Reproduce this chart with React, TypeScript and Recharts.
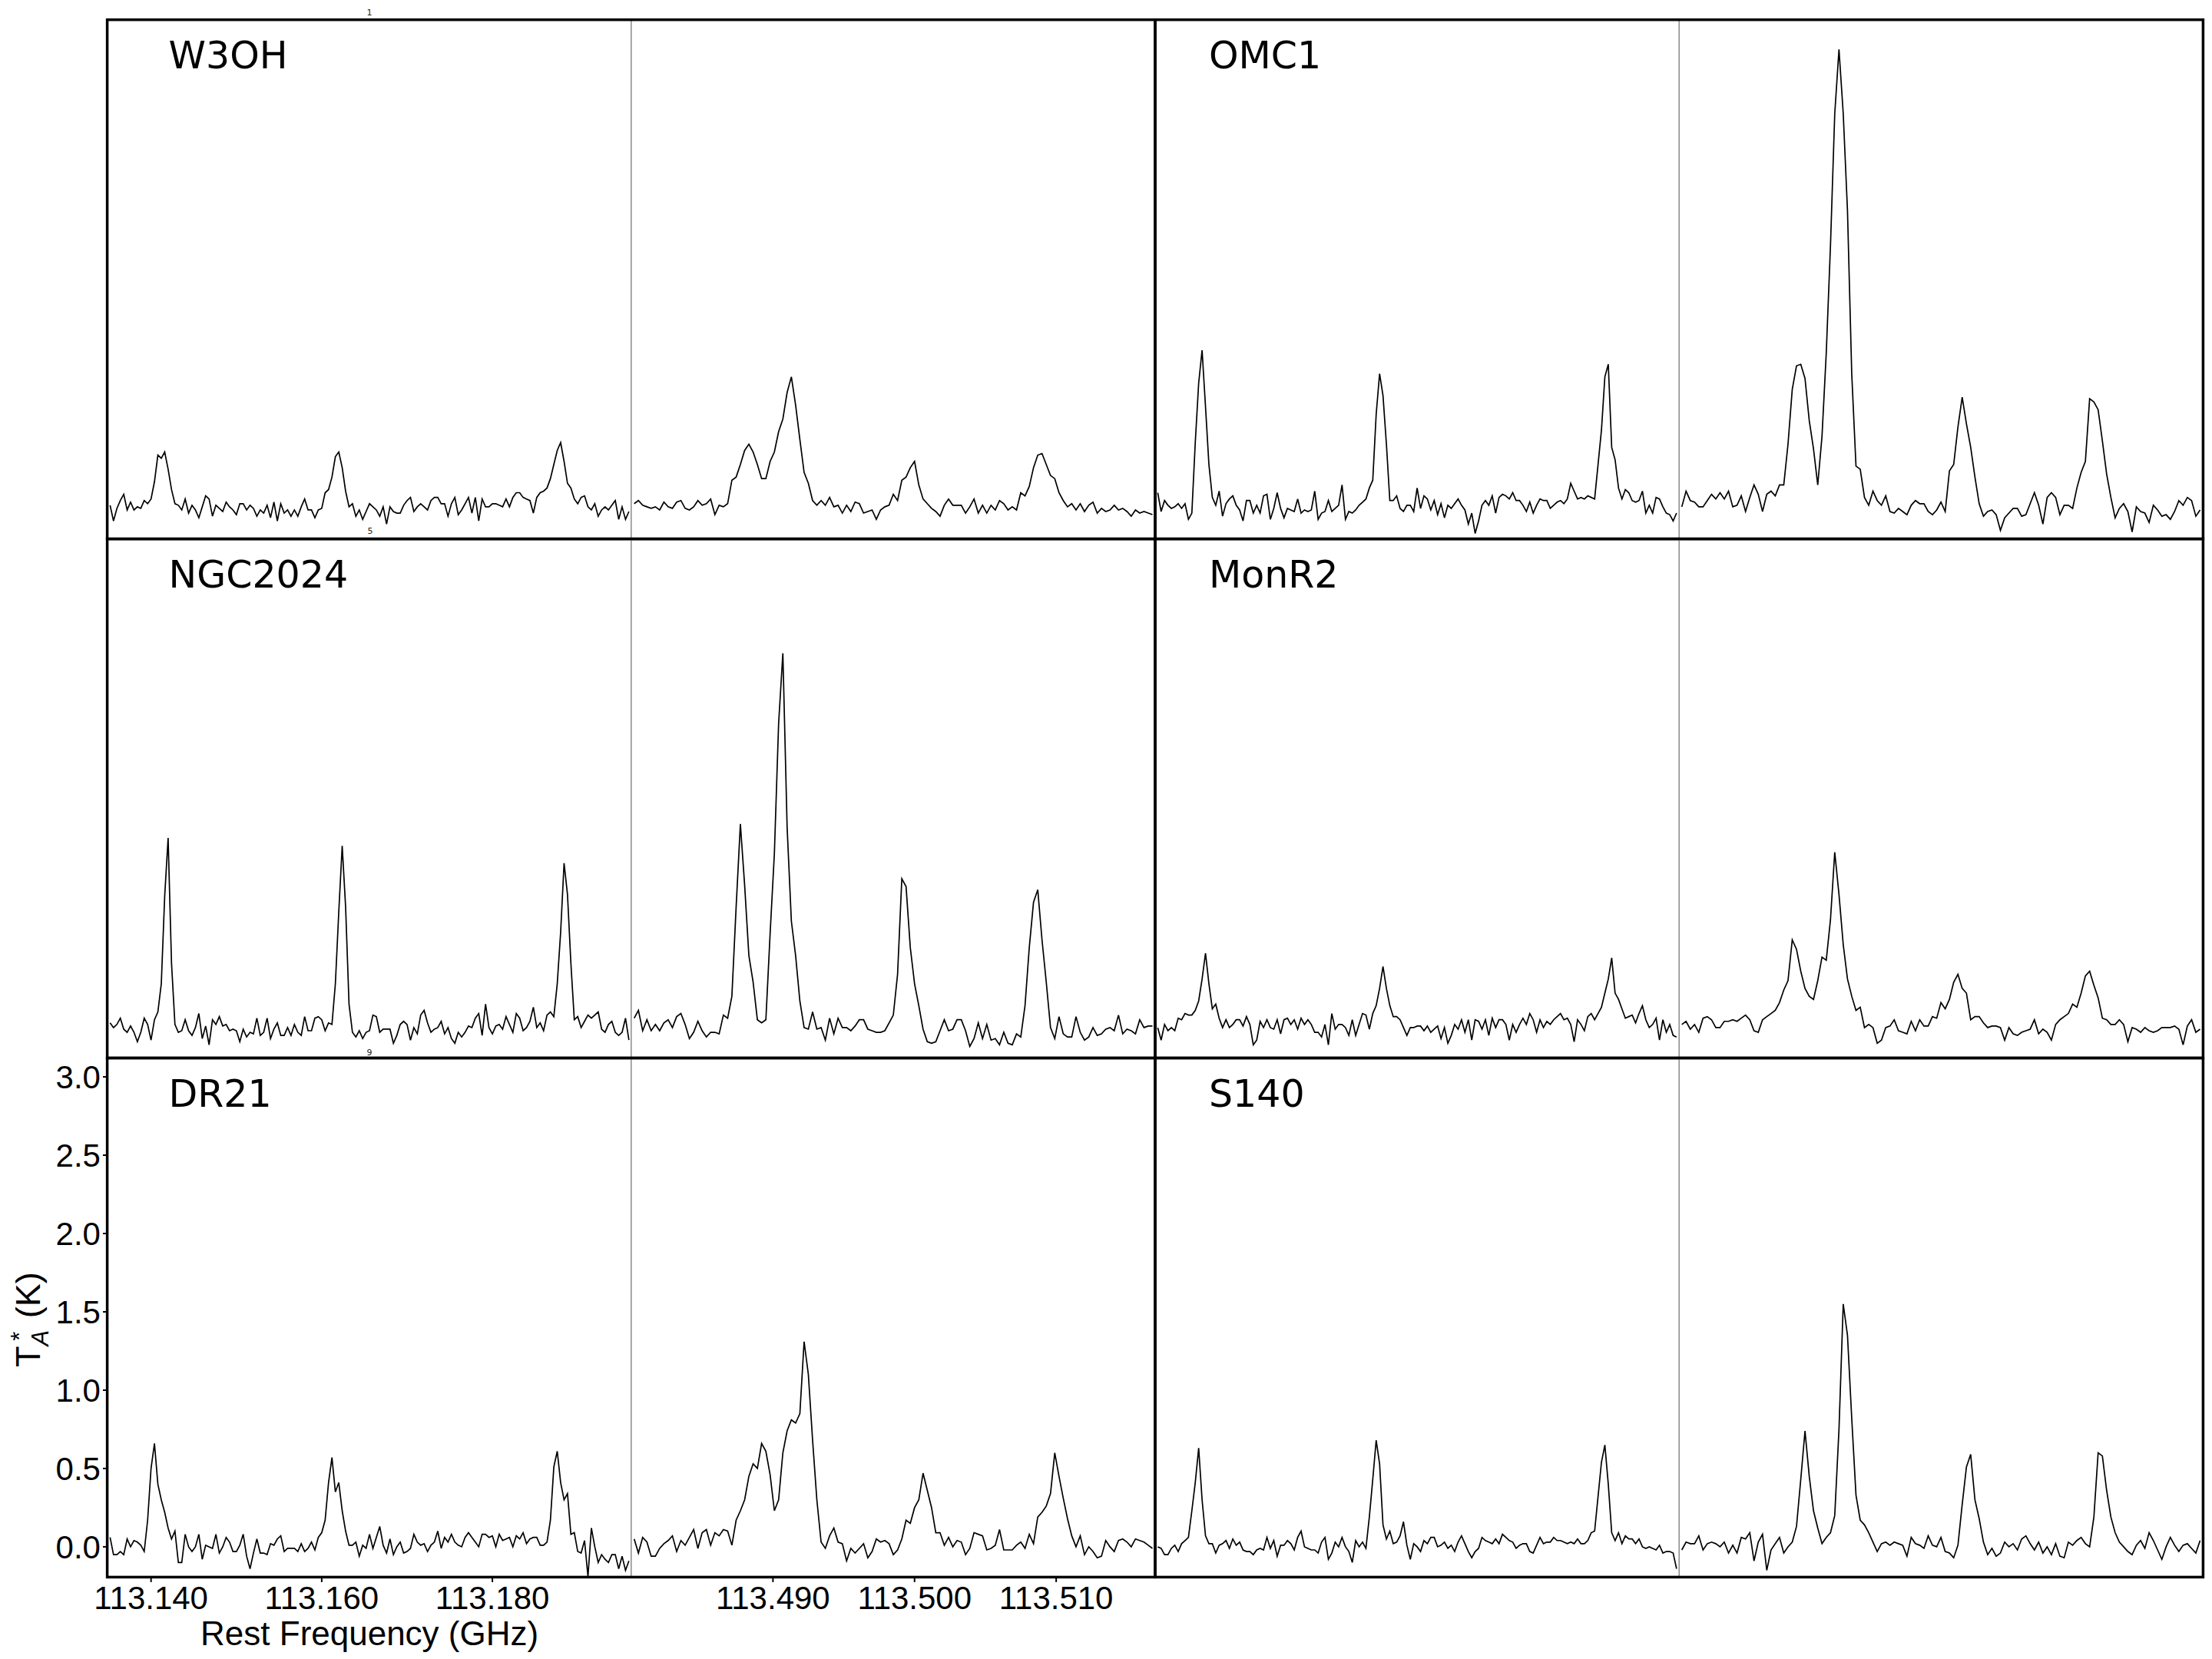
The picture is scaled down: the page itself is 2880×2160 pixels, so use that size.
import React from 'react';
import { LineChart, Line, XAxis, YAxis, Label } from 'recharts';

// frequency grid of each spectral window (GHz)
const LOW_START = 113.1352;
const LOW_STEP = 0.0004;
const HIGH_START = 113.4802;
const HIGH_STEP = 0.0003;
const LOW_DOMAIN: [number, number] = [113.1349, 113.1963];
const HIGH_DOMAIN: [number, number] = [113.48, 113.517];
const LOW_TICKS = [113.14, 113.16, 113.18];
const HIGH_TICKS = [113.49, 113.5, 113.51];
const Y_DOMAIN: [number, number] = [-0.196, 3.118];
const Y_TICKS = [0, 0.5, 1, 1.5, 2, 2.5, 3];

const sourceNames = ['W3OH', 'OMC1', 'NGC2024', 'MonR2', 'DR21', 'S140'];

// antenna temperature T*A (K), one value per channel
const w3ohLow = [
  0.02, -0.08, 0.0, 0.05, 0.09, -0.01, 0.04, -0.01, 0.01, 0.0,
  0.05, 0.03, 0.06, 0.17, 0.34, 0.32, 0.36, 0.25, 0.12, 0.03,
  0.02, -0.01, 0.06, -0.03, 0.02, -0.01, -0.06, 0.01, 0.08, 0.06,
  -0.05, 0.02, 0.0, -0.02, 0.04, 0.01, -0.01, -0.04, 0.03, 0.03,
  -0.01, 0.02, 0.0, -0.05, -0.01, -0.03, 0.02, -0.06, 0.04, -0.08,
  0.03, -0.03, -0.01, -0.05, -0.01, -0.05, 0.01, 0.06, -0.01, -0.01,
  -0.06, -0.01, 0.0, 0.1, 0.12, 0.2, 0.33, 0.36, 0.26, 0.11,
  0.01, 0.03, -0.05, -0.01, -0.07, -0.02, 0.03, 0.01, -0.01, -0.05,
  0.01, -0.1, 0.01, -0.02, -0.03, -0.03, 0.02, 0.05, 0.07, -0.02,
  0.01, 0.03, 0.01, -0.01, 0.05, 0.07, 0.07, 0.03, 0.03, -0.05,
  0.03, 0.07, -0.04, -0.01, 0.03, 0.07, -0.03, 0.07, -0.08, 0.06,
  0.01, 0.01, 0.03, 0.03, 0.02, 0.01, 0.06, 0.01, 0.07, 0.1,
  0.1, 0.07, 0.06, 0.05, -0.03, 0.07, 0.1, 0.11, 0.13, 0.19,
  0.28, 0.37, 0.42, 0.3, 0.16, 0.13, 0.06, 0.03, 0.07, 0.08,
  0.01, -0.01, 0.03, -0.05, -0.01, 0.01, -0.01, 0.02, 0.05, -0.07,
  0.01, -0.07, -0.02,
];
const w3ohHigh = [
  0.03, 0.05, 0.02, 0.01, 0.0, 0.01, -0.01, 0.04, 0.01, 0.0,
  0.04, 0.05, 0.0, -0.01, 0.01, 0.05, 0.02, 0.03, 0.06, -0.04,
  0.02, 0.01, 0.03, 0.18, 0.2, 0.28, 0.37, 0.41, 0.36, 0.28,
  0.19, 0.19, 0.3, 0.36, 0.49, 0.57, 0.74, 0.84, 0.66, 0.44,
  0.23, 0.16, 0.05, 0.02, 0.05, 0.02, 0.07, 0.01, 0.02, -0.03,
  0.02, -0.02, 0.04, 0.03, -0.03, -0.02, -0.01, -0.07, -0.01, 0.01,
  0.02, 0.09, 0.05, 0.18, 0.2, 0.26, 0.3, 0.15, 0.06, 0.03,
  0.0, -0.02, -0.05, 0.02, 0.06, 0.02, 0.02, 0.02, -0.03, 0.01,
  0.06, -0.03, 0.02, -0.03, 0.02, -0.01, 0.05, 0.03, -0.01, 0.01,
  -0.01, 0.1, 0.08, 0.14, 0.26, 0.34, 0.35, 0.28, 0.21, 0.19,
  0.1, 0.05, 0.01, 0.03, -0.01, 0.03, -0.02, 0.02, 0.04, -0.03,
  0.0, -0.02, -0.01, 0.02, -0.01, 0.0, -0.02, -0.05, -0.01, -0.03,
  -0.02, -0.03, -0.04,
];
const omc1Low = [
  0.1, -0.02, 0.05, 0.02, 0.0, 0.01, 0.03, 0.0, 0.03, -0.07,
  -0.03, 0.42, 0.8, 1.01, 0.65, 0.28, 0.07, 0.02, 0.11, -0.05,
  0.03, 0.06, 0.08, 0.02, -0.01, -0.08, 0.05, 0.05, -0.03, 0.02,
  -0.03, 0.08, 0.09, -0.07, 0.0, 0.1, 0.0, -0.06, 0.0, -0.01,
  -0.02, 0.06, -0.03, -0.01, -0.02, -0.01, 0.11, -0.07, -0.03, -0.02,
  0.05, -0.02, 0.0, 0.02, 0.15, -0.07, -0.02, -0.03, -0.01, 0.02,
  0.04, 0.06, 0.13, 0.18, 0.6, 0.86, 0.72, 0.41, 0.05, 0.05,
  0.08, 0.0, -0.02, 0.02, 0.02, -0.02, 0.13, 0.0, 0.08, 0.06,
  -0.01, 0.05, -0.04, 0.03, -0.06, 0.02, 0.0, 0.03, 0.06, 0.02,
  -0.01, -0.1, -0.03, -0.16, -0.08, 0.02, 0.05, 0.02, 0.08, -0.03,
  0.07, 0.09, 0.08, 0.06, 0.1, 0.05, 0.05, 0.02, -0.02, 0.04,
  -0.03, 0.02, 0.06, 0.05, 0.05, 0.0, 0.02, 0.04, 0.05, 0.03,
  0.06, 0.16, 0.11, 0.06, 0.07, 0.06, 0.08, 0.07, 0.06, 0.28,
  0.5, 0.84, 0.92, 0.39, 0.31, 0.13, 0.06, 0.12, 0.1, 0.05,
  0.04, 0.05, 0.11, -0.03, 0.02, -0.03, 0.07, 0.06, 0.01, -0.03,
  -0.04, -0.08, -0.03,
];
const omc1High = [
  0.01, 0.11, 0.05, 0.04, 0.01, 0.01, 0.05, 0.09, 0.06, 0.1,
  0.06, 0.11, 0.01, 0.02, 0.08, -0.02, 0.07, 0.15, 0.09, -0.02,
  0.09, 0.11, 0.08, 0.15, 0.15, 0.41, 0.76, 0.91, 0.92, 0.83,
  0.56, 0.38, 0.15, 0.46, 0.99, 1.68, 2.52, 2.93, 2.52, 1.9,
  0.86, 0.27, 0.25, 0.07, 0.02, 0.11, 0.05, 0.02, 0.08, -0.02,
  -0.03, 0.0, -0.02, -0.04, 0.02, 0.05, 0.03, 0.03, -0.02, -0.04,
  -0.01, 0.04, -0.02, 0.24, 0.28, 0.52, 0.71, 0.54, 0.39, 0.2,
  0.03, -0.05, -0.02, -0.01, -0.04, -0.14, -0.06, -0.03, 0.0, 0.0,
  -0.05, -0.04, 0.03, 0.1, 0.02, -0.1, 0.07, 0.1, 0.07, -0.04,
  0.02, 0.02, 0.0, 0.13, 0.23, 0.3, 0.7, 0.68, 0.63, 0.43,
  0.22, 0.07, -0.06, 0.0, 0.03, -0.02, -0.15, 0.01, -0.02, -0.03,
  -0.09, 0.02, -0.01, -0.05, -0.04, -0.07, -0.02, 0.05, 0.02, 0.07,
  0.05, -0.05, -0.01,
];
const ngc2024Low = [
  0.03, 0.0, 0.02, 0.06, -0.01, -0.03, 0.01, -0.03, -0.09, -0.03,
  0.06, 0.02, -0.08, 0.05, 0.1, 0.28, 0.84, 1.21, 0.41, 0.02,
  -0.03, -0.02, 0.05, -0.02, -0.05, 0.0, 0.09, -0.07, 0.01, -0.11,
  0.05, 0.02, 0.07, 0.01, 0.02, -0.02, -0.01, -0.02, -0.09, -0.01,
  -0.06, -0.03, -0.04, 0.06, -0.05, -0.03, 0.06, -0.07, -0.01, 0.03,
  -0.05, -0.05, 0.0, -0.05, 0.02, -0.03, -0.05, 0.07, -0.02, -0.02,
  0.06, 0.07, 0.05, -0.02, 0.03, 0.02, 0.28, 0.74, 1.16, 0.77,
  0.15, -0.03, -0.06, -0.02, -0.07, -0.03, -0.02, 0.08, 0.07, -0.03,
  -0.01, -0.01, -0.01, -0.1, -0.05, 0.02, 0.04, 0.02, -0.08, 0.0,
  -0.04, 0.08, 0.11, 0.03, -0.03, -0.01, 0.0, 0.04, -0.04, 0.0,
  -0.07, -0.1, -0.03, -0.06, -0.03, 0.01, 0.0, 0.06, 0.09, -0.05,
  0.15, 0.0, -0.04, 0.01, 0.02, -0.01, 0.07, 0.02, -0.03, 0.09,
  0.06, -0.02, 0.0, 0.04, 0.13, 0.0, 0.03, -0.02, 0.08, 0.1,
  0.07, 0.28, 0.61, 1.05, 0.85, 0.41, 0.05, 0.07, 0.0, 0.04,
  0.08, 0.06, 0.08, 0.1, -0.01, -0.03, 0.02, 0.04, -0.03, -0.05,
  -0.03, 0.06, -0.08,
];
const ngc2024High = [
  0.06, 0.11, -0.02, 0.05, -0.02, 0.02, -0.02, 0.03, 0.05, 0.0,
  0.07, 0.09, 0.02, -0.07, -0.03, 0.04, -0.02, -0.06, -0.03, -0.03,
  -0.04, 0.08, 0.06, 0.2, 0.77, 1.3, 0.91, 0.46, 0.29, 0.05,
  0.03, 0.05, 0.6, 1.11, 1.94, 2.39, 1.28, 0.68, 0.46, 0.17,
  0.0, -0.01, 0.1, -0.01, 0.0, -0.08, 0.06, -0.04, 0.06, 0.0,
  0.0, -0.02, 0.01, 0.05, 0.05, -0.01, -0.02, -0.03, -0.03, -0.02,
  0.03, 0.08, 0.34, 0.95, 0.9, 0.51, 0.28, 0.14, -0.01, -0.09,
  -0.1, -0.09, -0.02, 0.05, -0.02, -0.01, 0.05, 0.05, -0.02, -0.12,
  -0.07, 0.03, -0.07, 0.02, -0.08, -0.07, -0.11, -0.03, -0.1, -0.11,
  -0.04, -0.06, 0.14, 0.51, 0.8, 0.88, 0.56, 0.29, 0.0, -0.07,
  0.07, -0.04, -0.06, -0.06, 0.07, -0.03, -0.08, -0.06, 0.0, -0.05,
  -0.04, -0.01, 0.0, -0.02, 0.08, -0.04, -0.01, -0.02, -0.04, 0.05,
  0.0, 0.01, 0.01,
];
const monr2Low = [
  0.0, -0.08, 0.02, -0.02, 0.0, -0.02, 0.06, 0.05, 0.09, 0.08,
  0.08, 0.11, 0.17, 0.31, 0.475, 0.28, 0.12, 0.15, 0.06, 0.0,
  0.05, 0.0, 0.02, 0.05, 0.05, 0.01, 0.07, 0.02, -0.11, -0.08,
  0.04, 0.0, 0.05, 0.0, -0.01, 0.05, -0.04, 0.05, 0.06, 0.02,
  0.05, -0.01, 0.06, 0.02, 0.05, 0.02, -0.03, -0.03, -0.06, 0.02,
  -0.11, 0.09, -0.01, 0.02, 0.02, 0.0, -0.05, 0.05, -0.05, 0.02,
  0.09, 0.08, -0.01, 0.09, 0.14, 0.25, 0.39, 0.25, 0.14, 0.07,
  0.07, 0.05, 0.0, -0.05, 0.0, 0.0, 0.01, 0.01, -0.02, 0.01,
  -0.03, -0.01, 0.01, -0.07, 0.0, -0.1, -0.05, 0.02, -0.01, 0.05,
  -0.03, 0.05, -0.08, 0.05, 0.04, -0.01, 0.05, -0.05, 0.06, 0.0,
  0.05, 0.05, 0.02, -0.08, 0.02, -0.03, 0.02, 0.06, 0.02, 0.09,
  0.05, -0.03, 0.05, 0.0, 0.04, 0.02, 0.05, 0.07, 0.09, 0.05,
  0.06, 0.02, -0.09, 0.05, 0.02, -0.02, 0.07, 0.09, 0.05, 0.09,
  0.13, 0.22, 0.31, 0.445, 0.22, 0.18, 0.12, 0.06, 0.07, 0.08,
  0.03, 0.09, 0.14, 0.05, 0.0, 0.02, 0.06, -0.08, 0.05, -0.03,
  0.02, -0.05, -0.06,
];
const monr2High = [
  0.02, 0.04, -0.01, 0.02, -0.03, 0.06, 0.07, 0.05, 0.0, 0.0,
  0.04, 0.04, 0.05, 0.04, 0.06, 0.08, 0.05, -0.02, -0.03, 0.05,
  0.07, 0.09, 0.11, 0.16, 0.24, 0.3, 0.56, 0.5, 0.36, 0.25,
  0.2, 0.18, 0.3, 0.45, 0.43, 0.69, 1.12, 0.85, 0.53, 0.31,
  0.2, 0.11, 0.13, 0.0, 0.02, 0.0, -0.1, -0.08, 0.0, 0.01,
  0.05, -0.02, -0.03, -0.04, 0.04, -0.02, 0.05, 0.01, 0.01, 0.07,
  0.06, 0.16, 0.12, 0.18, 0.29, 0.34, 0.25, 0.22, 0.05, 0.07,
  0.07, 0.03, 0.0, 0.01, 0.01, 0.0, -0.08, 0.0, -0.04, -0.05,
  -0.03, -0.02, -0.01, 0.05, -0.04, -0.01, -0.03, -0.08, 0.02, 0.05,
  0.07, 0.09, 0.15, 0.13, 0.22, 0.33, 0.36, 0.27, 0.19, 0.06,
  0.05, 0.02, 0.02, 0.05, 0.02, -0.09, 0.0, -0.01, -0.03, 0.0,
  -0.02, -0.03, -0.02, 0.0, 0.0, 0.0, 0.01, -0.01, -0.11, 0.01,
  0.05, -0.03, -0.01,
];
const dr21Low = [
  0.06, -0.05, -0.05, -0.03, -0.05, 0.05, 0.0, 0.04, 0.03, 0.01,
  -0.03, 0.17, 0.5, 0.66, 0.4, 0.3, 0.22, 0.12, 0.05, 0.1,
  -0.1, -0.1, 0.08, 0.0, -0.03, 0.0, 0.08, -0.08, 0.01, 0.0,
  -0.01, 0.08, -0.04, 0.0, 0.06, 0.03, -0.03, -0.03, 0.01, 0.08,
  -0.06, -0.14, -0.04, 0.05, -0.04, -0.04, -0.05, 0.02, 0.01, 0.05,
  0.07, -0.03, -0.01, -0.01, -0.01, -0.03, 0.02, -0.03, -0.01, 0.03,
  -0.02, 0.06, 0.09, 0.17, 0.41, 0.57, 0.35, 0.41, 0.23, 0.1,
  0.01, 0.01, 0.03, -0.06, 0.01, -0.01, 0.08, -0.01, 0.06, 0.13,
  0.01, -0.04, 0.05, -0.05, 0.0, 0.03, -0.04, -0.03, -0.01, 0.08,
  0.03, 0.01, 0.02, -0.03, 0.01, 0.03, 0.1, -0.01, 0.06, 0.03,
  0.08, 0.03, 0.01, 0.0, 0.06, 0.09, 0.06, 0.03, 0.0, 0.08,
  0.08, 0.06, 0.07, 0.0, 0.08, 0.04, 0.05, 0.06, 0.0, 0.07,
  0.05, 0.09, 0.02, 0.05, 0.06, 0.06, 0.01, 0.01, 0.03, 0.17,
  0.51, 0.61, 0.41, 0.3, 0.34, 0.08, 0.09, -0.03, -0.04, 0.04,
  -0.19, 0.12, 0.0, -0.1, -0.05, -0.08, -0.1, -0.05, -0.05, -0.14,
  -0.06, -0.15, -0.09,
];
const dr21High = [
  0.05, -0.04, 0.06, 0.03, -0.06, -0.06, -0.01, 0.02, 0.04, 0.07,
  -0.03, 0.04, 0.01, 0.06, 0.11, -0.01, 0.09, 0.11, 0.01, 0.09,
  0.07, 0.11, 0.1, 0.01, 0.17, 0.23, 0.3, 0.45, 0.53, 0.5,
  0.66, 0.61, 0.46, 0.23, 0.3, 0.6, 0.74, 0.81, 0.79, 0.85,
  1.31, 1.1, 0.68, 0.3, 0.03, -0.01, 0.07, 0.12, 0.03, 0.02,
  -0.09, -0.01, -0.04, -0.01, 0.02, -0.07, -0.03, 0.05, 0.03, 0.04,
  0.02, -0.05, -0.02, 0.05, 0.17, 0.15, 0.25, 0.3, 0.47, 0.36,
  0.25, 0.09, 0.09, 0.01, 0.06, 0.0, 0.04, 0.03, -0.05, -0.01,
  0.09, 0.08, 0.07, -0.02, -0.01, 0.01, 0.11, -0.02, -0.02, -0.02,
  0.01, 0.03, -0.01, 0.08, 0.02, 0.19, 0.22, 0.26, 0.34, 0.6,
  0.45, 0.31, 0.18, 0.07, 0.0, 0.07, -0.05, 0.0, -0.03, -0.07,
  -0.06, 0.04, 0.0, -0.03, 0.04, 0.05, 0.03, 0.0, 0.05, 0.04,
  0.03, 0.01, -0.01,
];
const s140Low = [
  0.0, -0.01, -0.05, -0.05, -0.01, 0.01, -0.03, 0.02, 0.04, 0.06,
  0.23, 0.41, 0.63, 0.3, 0.07, 0.02, 0.02, -0.04, 0.01, 0.02,
  0.04, -0.01, 0.05, 0.01, 0.03, -0.02, -0.03, -0.03, -0.05, -0.02,
  -0.01, -0.02, 0.06, -0.01, 0.04, -0.06, 0.01, 0.01, 0.04, 0.02,
  -0.02, 0.06, 0.1, 0.0, -0.01, -0.02, -0.02, -0.04, 0.03, 0.06,
  -0.08, -0.04, 0.03, 0.0, 0.06, 0.0, -0.03, -0.1, 0.04, 0.0,
  0.03, -0.01, 0.19, 0.43, 0.68, 0.53, 0.14, 0.05, 0.1, 0.02,
  0.03, 0.07, 0.16, 0.01, -0.08, 0.02, 0.0, -0.03, 0.04, 0.02,
  0.06, 0.06, 0.0, 0.01, 0.03, -0.01, 0.01, -0.03, 0.03, 0.07,
  0.02, -0.03, -0.07, -0.03, -0.01, 0.06, 0.04, 0.03, 0.02, 0.05,
  0.02, 0.08, 0.06, 0.04, 0.03, -0.01, 0.01, 0.02, 0.02, -0.03,
  -0.04, 0.01, 0.06, 0.02, 0.03, 0.03, 0.06, 0.04, 0.04, 0.03,
  0.02, 0.03, 0.02, 0.05, 0.02, 0.02, 0.04, 0.09, 0.1, 0.32,
  0.54, 0.65, 0.4, 0.09, 0.04, 0.09, 0.02, 0.07, 0.05, 0.05,
  0.02, 0.05, 0.0, -0.01, 0.0, -0.01, -0.02, 0.01, -0.04, -0.03,
  -0.03, -0.04, -0.14,
];
const s140High = [
  -0.02, 0.03, 0.02, 0.02, 0.07, -0.02, 0.02, 0.03, 0.02, 0.0,
  0.03, -0.04, 0.01, -0.04, 0.06, 0.05, 0.09, -0.09, 0.03, 0.08,
  -0.15, -0.02, 0.02, 0.06, -0.04, 0.0, 0.03, 0.13, 0.43, 0.74,
  0.45, 0.23, 0.12, 0.02, 0.06, 0.09, 0.2, 0.75, 1.55, 1.35,
  0.82, 0.33, 0.17, 0.14, 0.09, 0.03, -0.03, 0.02, 0.03, 0.01,
  0.03, 0.02, 0.01, -0.06, 0.06, 0.02, 0.01, -0.01, 0.07, 0.01,
  0.0, 0.06, -0.03, -0.04, -0.07, 0.01, 0.27, 0.51, 0.59, 0.3,
  0.18, 0.03, -0.05, -0.01, -0.06, -0.04, 0.03, 0.0, 0.02, -0.02,
  0.05, 0.07, 0.02, -0.02, 0.03, -0.04, 0.0, -0.05, 0.02, -0.06,
  -0.07, 0.03, 0.01, 0.04, 0.06, 0.02, 0.0, 0.19, 0.6, 0.58,
  0.36, 0.19, 0.09, 0.03, 0.0, -0.03, -0.05, 0.01, 0.04, -0.01,
  0.09, 0.04, -0.02, -0.08, 0.0, 0.06, 0.01, -0.03, 0.01, 0.02,
  -0.01, -0.04, 0.04,
];

const lowSeries = [w3ohLow, omc1Low, ngc2024Low, monr2Low, dr21Low, s140Low];
const highSeries = [w3ohHigh, omc1High, ngc2024High, monr2High, dr21High, s140High];

// layout (px)
const COL_X = [139.6, 1504];
const ROW_Y = [25.7, 701.6, 1377.5];
const NAME_DX = [80, 70];
const PANEL_W = 1364.4;
const HALF_W = PANEL_W / 2;
const PANEL_H = 675.9;
const Y_AXIS_W = 150;
const X_AXIS_H = 110;
const SANS = '"Liberation Sans", Arial, sans-serif';
const DEJAVU = '"DejaVu Sans", sans-serif';

type HalfProps = {
  values: number[];
  start: number;
  step: number;
  domain: [number, number];
  left: number;
  top: number;
  ticks?: number[];
  showY?: boolean;
  xLabel?: string;
};

function HalfSpectrum({ values, start, step, domain, left, top, ticks, showY, xLabel }: HalfProps) {
  const data = values.map((t, i) => ({ f: start + i * step, t }));
  const yw = showY ? Y_AXIS_W : 0;
  const xh = ticks ? X_AXIS_H : 0;
  return (
    <div style={{ position: 'absolute', left: left - yw, top }}>
      <LineChart width={HALF_W + yw} height={PANEL_H + xh} data={data} margin={{ top: 0, right: 0, bottom: 0, left: 0 }}>
        <XAxis
          type="number"
          dataKey="f"
          domain={domain}
          allowDataOverflow
          hide={!ticks}
          ticks={ticks}
          interval={0}
          height={xh || 1}
          axisLine={false}
          tickSize={6}
          tickMargin={5}
          tickLine={{ stroke: '#000', strokeWidth: 2 }}
          tickFormatter={(v: number) => v.toFixed(3)}
          tick={{ fontSize: 42, fill: '#000', fontFamily: SANS }}
        >
          {xLabel && (
            <Label value={xLabel} position="insideBottom" offset={22} style={{ fontSize: 44, fill: '#000', fontFamily: SANS }} />
          )}
        </XAxis>
        <YAxis
          type="number"
          domain={Y_DOMAIN}
          allowDataOverflow
          hide={!showY}
          width={yw || 1}
          ticks={Y_TICKS}
          interval={0}
          axisLine={false}
          tickSize={6}
          tickMargin={3}
          tickLine={{ stroke: '#000', strokeWidth: 2 }}
          tickFormatter={(v: number) => v.toFixed(1)}
          tick={{ fontSize: 42, fill: '#000', fontFamily: SANS }}
        />
        <Line type="linear" dataKey="t" stroke="#000" strokeWidth={1.7} dot={false} activeDot={false} isAnimationActive={false} />
      </LineChart>
    </div>
  );
}

export default function App() {
  return (
    <div style={{ position: 'absolute', left: 0, top: 0, width: 2880, height: 2160, background: '#fff', overflow: 'hidden' }}>
      {sourceNames.map((name, k) => {
        const col = k % 2;
        const row = Math.floor(k / 2);
        const x = COL_X[col];
        const y = ROW_Y[row];
        const bottomLeft = row === 2 && col === 0;
        return (
          <React.Fragment key={name}>
            <HalfSpectrum
              values={lowSeries[k]}
              start={LOW_START}
              step={LOW_STEP}
              domain={LOW_DOMAIN}
              left={x}
              top={y}
              ticks={bottomLeft ? LOW_TICKS : undefined}
              showY={bottomLeft}
              xLabel={bottomLeft ? 'Rest Frequency (GHz)' : undefined}
            />
            <HalfSpectrum
              values={highSeries[k]}
              start={HIGH_START}
              step={HIGH_STEP}
              domain={HIGH_DOMAIN}
              left={x + HALF_W}
              top={y}
              ticks={bottomLeft ? HIGH_TICKS : undefined}
            />
          </React.Fragment>
        );
      })}
      <svg width={2880} height={2160} style={{ position: 'absolute', left: 0, top: 0, pointerEvents: 'none' }}>
        {sourceNames.map((name, k) => {
          const col = k % 2;
          const x = COL_X[col];
          const y = ROW_Y[Math.floor(k / 2)];
          return (
            <g key={name}>
              <line x1={x + HALF_W} x2={x + HALF_W} y1={y} y2={y + PANEL_H} stroke="#8a8a8a" strokeWidth={1.5} />
              <rect x={x} y={y} width={PANEL_W} height={PANEL_H} fill="none" stroke="#000" strokeWidth={3.5} />
              <text x={x + NAME_DX[col]} y={y + 63} fontSize={49} fontFamily={DEJAVU} fill="#000">
                {name}
              </text>
            </g>
          );
        })}
        <text x={481} y={20} fontSize={11} fontFamily={DEJAVU} fill="#222" textAnchor="middle">1</text>
        <text x={482} y={695} fontSize={11} fontFamily={DEJAVU} fill="#222" textAnchor="middle">5</text>
        <text x={481} y={1374} fontSize={11} fontFamily={DEJAVU} fill="#222" textAnchor="middle">9</text>
        <g transform="translate(52 1780) rotate(-90)">
          <text x={0} y={0} fontSize={45} fontFamily={SANS} fill="#000">
            <tspan>T</tspan>
            <tspan fontSize={31} fontStyle="italic" dy={11}>A</tspan>
            <tspan fontSize={31} dx={-14} dy={-27}>*</tspan>
            <tspan dx={5} dy={16}> (K)</tspan>
          </text>
        </g>
      </svg>
    </div>
  );
}
